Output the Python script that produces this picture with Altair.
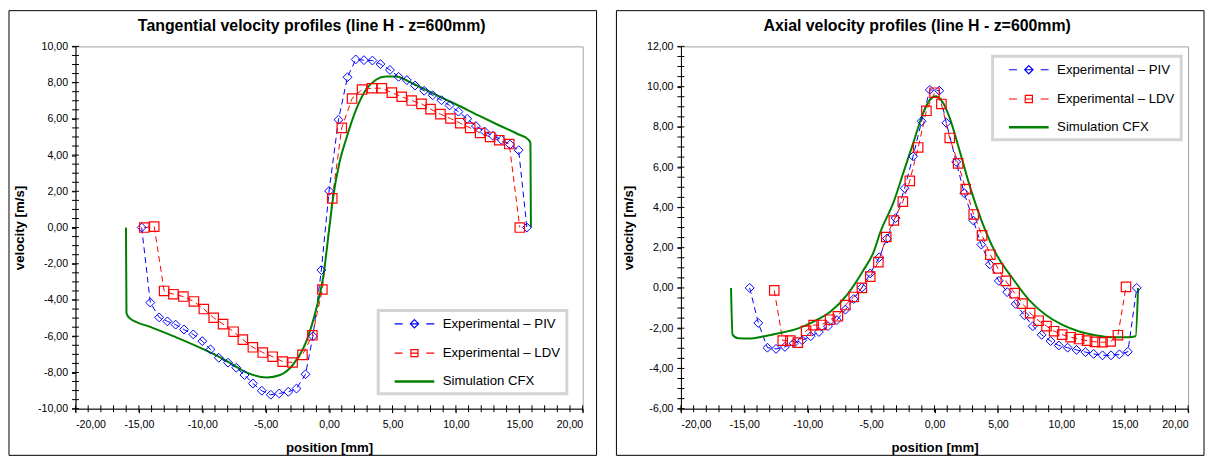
import altair as alt
import pandas as pd

FONT = "Liberation Sans"
PIV = "Experimental – PIV"
LDV = "Experimental – LDV"
CFX = "Simulation CFX"
SERIES = [PIV, LDV, CFX]
COLORS = ["#0000ff", "#ff0000", "#008000"]

X_MAJOR = [-20, -15, -10, -5, 0, 5, 10, 15, 20]
X_MINOR = list(range(-20, 21))
TAN_Y_MAJOR = list(range(-10, 11, 2))
TAN_Y_MINOR = [v / 2 for v in range(-20, 21)]
AX_Y_MAJOR = list(range(-6, 13, 2))
AX_Y_MINOR = [v / 2 for v in range(-12, 25)]

TAN_TITLE = "Tangential velocity profiles (line H - z=600mm)"
AX_TITLE = "Axial velocity profiles (line H - z=600mm)"

# ---- Tangential velocity (line H, z=600mm)
tan_piv_x = [-14.78, -14.10, -13.40, -12.75, -12.10, -11.44, -10.71, -10.00, -9.35, -8.70,
             -7.97, -7.32, -6.67, -6.01, -5.31, -4.60, -3.93, -3.22, -2.57, -1.86,
             -1.27, -0.61, 0.00, 0.74, 1.45, 2.10, 2.75, 3.42, 4.05, 4.80,
             5.48, 6.13, 6.78, 7.50, 8.17, 8.86, 9.50, 10.20, 10.89, 11.58,
             12.27, 12.93, 13.59, 14.27, 14.95, 15.60]
tan_piv_y = [0.00, -4.14, -4.96, -5.18, -5.36, -5.63, -5.90, -6.27, -6.73, -7.19,
             -7.46, -7.74, -8.14, -8.61, -9.01, -9.23, -9.16, -9.07, -8.89, -8.10,
             -6.00, -2.35, 2.02, 5.95, 8.30, 9.28, 9.24, 9.22, 9.02, 8.70,
             8.32, 8.14, 7.84, 7.55, 7.30, 7.03, 6.74, 6.40, 6.00, 5.60,
             5.30, 5.06, 4.85, 4.58, 4.27, 0.00]
tan_ldv_x = [-14.57, -13.79, -13.01, -12.28, -11.49, -10.66, -9.88, -9.10, -8.36, -7.53,
             -6.80, -6.01, -5.23, -4.45, -3.66, -2.88, -2.10, -1.32, -0.53, 0.25,
             1.00, 1.81, 2.60, 3.38, 4.16, 4.95, 5.73, 6.51, 7.29, 8.00,
             8.78, 9.57, 10.35, 11.13, 11.91, 12.70, 13.42, 14.21, 15.04]
tan_ldv_y = [0.00, 0.05, -3.50, -3.68, -3.81, -4.08, -4.50, -4.98, -5.33, -5.75,
             -6.19, -6.61, -6.90, -7.13, -7.40, -7.45, -7.03, -5.95, -3.42, 1.61,
             5.50, 7.12, 7.62, 7.69, 7.69, 7.45, 7.22, 7.01, 6.83, 6.54,
             6.26, 6.02, 5.76, 5.50, 5.22, 5.00, 4.82, 4.61, 0.00]
tan_cfx_x = [-16.02, -15.98, -15.75, -14.05, -11.96, -9.88, -8.05, -6.48, -4.92, -3.87,
             -2.83, -1.79, -1.00, -0.48, 0.04, 0.30, 0.82, 1.34, 2.13, 2.91,
             3.70, 4.48, 5.26, 6.30, 8.13, 9.96, 11.78, 13.35, 14.91, 15.69,
             15.88, 15.92]
tan_cfx_y = [0.00, -4.72, -5.00, -5.50, -6.09, -6.73, -7.37, -8.01, -8.28, -8.14,
             -7.55, -6.27, -4.45, -2.80, 0.10, 1.58, 3.59, 4.87, 6.51, 7.61,
             8.16, 8.34, 8.34, 8.06, 7.42, 6.82, 6.19, 5.66, 5.15, 4.87,
             4.68, 0.00]

# ---- Axial velocity (line H, z=600mm)
ax_piv_x = [-14.58, -13.90, -13.18, -12.50, -11.80, -11.10, -10.44, -9.77, -9.12, -8.40,
            -7.70, -7.03, -6.37, -5.73, -5.07, -4.36, -3.75, -3.07, -2.36, -1.69,
            -1.02, -0.37, 0.37, 0.93, 1.71, 2.34, 3.06, 3.69, 4.36, 5.07,
            5.73, 6.40, 7.09, 7.75, 8.45, 9.15, 9.80, 10.50, 11.20, 11.90,
            12.55, 13.25, 13.92, 14.58, 15.25, 15.95]
ax_piv_y = [0.00, -1.74, -2.97, -3.03, -2.93, -2.75, -2.60, -2.40, -2.19, -1.90,
            -1.60, -1.08, -0.55, 0.02, 0.72, 1.52, 2.45, 3.47, 4.95, 6.54,
            8.28, 9.84, 9.80, 8.20, 6.26, 4.71, 3.35, 2.15, 1.17, 0.35,
            -0.21, -0.80, -1.36, -1.90, -2.33, -2.64, -2.86, -2.97, -3.08, -3.19,
            -3.28, -3.35, -3.35, -3.30, -3.17, 0.00]
ax_ldv_x = [-12.64, -11.97, -11.37, -10.78, -10.13, -9.54, -8.91, -8.24, -7.62, -7.03,
            -6.37, -5.73, -5.07, -4.43, -3.81, -3.21, -2.50, -1.95, -1.29, -0.64,
            0.00, 0.54, 1.20, 1.86, 2.46, 3.09, 3.75, 4.40, 5.00, 5.62,
            6.32, 6.94, 7.54, 8.21, 8.83, 9.43, 10.07, 10.74, 11.40, 12.03,
            12.65, 13.25, 13.89, 14.46, 15.10]
ax_ldv_y = [-0.12, -2.62, -2.62, -2.72, -2.13, -1.85, -1.84, -1.58, -1.41, -0.85,
            -0.45, 0.00, 0.56, 1.28, 2.53, 3.35, 4.29, 5.32, 6.98, 8.80,
            9.70, 9.14, 7.45, 6.19, 4.91, 3.65, 2.61, 1.65, 0.97, 0.35,
            -0.26, -0.78, -1.25, -1.63, -1.90, -2.15, -2.32, -2.45, -2.54, -2.62,
            -2.68, -2.70, -2.66, -2.35, 0.05]
ax_cfx_x = [-16.05, -15.93, -15.50, -14.45, -13.40, -12.10, -10.80, -9.50, -8.20, -6.90,
            -5.60, -4.80, -4.27, -3.23, -2.45, -1.67, -0.89, -0.36, 0.10, 0.68,
            1.20, 1.95, 2.85, 3.75, 4.84, 6.15, 7.45, 8.75, 10.05, 11.35,
            12.66, 13.96, 15.26, 15.86, 16.05]
ax_cfx_y = [0.00, -2.32, -2.50, -2.51, -2.40, -2.23, -2.02, -1.66, -1.17, -0.34,
            0.89, 1.79, 2.78, 4.26, 5.74, 7.22, 8.70, 9.35, 9.52, 9.19,
            8.44, 6.88, 4.91, 3.27, 1.71, 0.48, -0.59, -1.33, -1.82, -2.15,
            -2.35, -2.45, -2.45, -2.40, 0.00]

W, H = 511, 365
LABEL_EXPR = "replace(replace(format(datum.value, '.2f'), '.', ','), '\u2212', '-')"

# legend symbols: dash, marker, dash / thick solid line (custom paths)
LEGEND_SHAPES = [
    "M-3,0H-1.8M1.8,0H3M0,-0.63L0.63,0L0,0.63L-0.63,0ZM-0.63,0H0.63",
    "M-3,0H-1.8M1.8,0H3M-0.54,-0.54H0.54V0.54H-0.54ZM-0.54,0H0.54",
    "M-3,0H3M-3,0.1H3M-3,-0.1H3",
]


def series_df(x, y, name):
    return pd.DataFrame({"position": x, "velocity": y, "series": name})


def panel(title, piv, ldv, cfx, ydomain, ymajor, yminor, legend_pos, frame_x):
    xs = alt.Scale(domain=[-20, 20], nice=False, zero=False)
    ys = alt.Scale(domain=ydomain, nice=False, zero=False)
    xa = alt.Axis(values=X_MAJOR, labelExpr=LABEL_EXPR, title="position [mm]",
                  tickSize=4, labelPadding=7, titlePadding=11, grid=False)
    ya = alt.Axis(values=ymajor, labelExpr=LABEL_EXPR, title="velocity [m/s]",
                  tickSize=4, labelPadding=4, titlePadding=11, grid=False)
    X = alt.X("position:Q", scale=xs, axis=xa)
    Y = alt.Y("velocity:Q", scale=ys, axis=ya)
    legend = alt.Legend(
        orient="none", legendX=legend_pos[0], legendY=legend_pos[1], title=None,
        symbolSize=177, symbolOffset=23, labelOffset=21, symbolOpacity=1,
        symbolStrokeWidth=1.2,
        labelFont=FONT, labelFontSize=13.3, labelColor="black", labelLimit=0,
        padding=6, rowPadding=14.5, fillColor="white", strokeColor="#d4d4d4",
    )
    C = alt.Color("series:N", scale=alt.Scale(domain=SERIES, range=COLORS), legend=legend)

    frame = alt.Chart(pd.DataFrame({"k": [0]})).mark_rect(
        fill="transparent", stroke="black", strokeWidth=1
    ).encode(x=alt.value(frame_x[0]), x2=alt.value(frame_x[1]),
             y=alt.value(-36), y2=alt.value(412))

    head = alt.Chart(pd.DataFrame({"title": [title]})).mark_text(
        font=FONT, fontSize=16, fontWeight="bold", color="black",
        align="center", baseline="alphabetic"
    ).encode(text="title:N", x=alt.value(238), y=alt.value(-16))

    xt = alt.Chart(pd.DataFrame({"position": X_MINOR})).mark_tick(
        orient="vertical", size=7, thickness=1, color="black", opacity=1
    ).encode(x=X, y=alt.value(H))
    yt = alt.Chart(pd.DataFrame({"velocity": yminor})).mark_tick(
        orient="horizontal", size=7, thickness=1, color="black", opacity=1
    ).encode(y=Y, x=alt.value(0))

    exp = pd.concat([series_df(piv[0], piv[1], PIV), series_df(ldv[0], ldv[1], LDV)])
    dashed = alt.Chart(exp).mark_line(strokeDash=[6, 4], strokeWidth=1).encode(
        x=X, y=Y, color=C)
    sim = alt.Chart(series_df(cfx[0], cfx[1], CFX)).mark_line(
        strokeWidth=2, interpolate="monotone").encode(x=X, y=Y, color=C)
    piv_pts = alt.Chart(series_df(piv[0], piv[1], PIV)).mark_point(
        shape="diamond", size=80, strokeWidth=1, filled=False, opacity=1
    ).encode(x=X, y=Y, color=C)
    ldv_pts = alt.Chart(series_df(ldv[0], ldv[1], LDV)).mark_point(
        shape="square", size=90, strokeWidth=1.2, filled=False, opacity=1
    ).encode(x=X, y=Y, color=C)
    # invisible layer that only supplies the legend symbols
    leg = alt.Chart(pd.DataFrame({"series": SERIES})).mark_point(
        opacity=0, filled=False
    ).encode(
        x=alt.value(0), y=alt.value(0), color=C,
        shape=alt.Shape("series:N", scale=alt.Scale(domain=SERIES, range=LEGEND_SHAPES),
                        legend=legend),
    )

    return alt.layer(frame, head, xt, yt, dashed, sim, piv_pts, ldv_pts, leg).properties(
        width=W, height=H)


left = panel(TAN_TITLE,
             (tan_piv_x, tan_piv_y), (tan_ldv_x, tan_ldv_y), (tan_cfx_x, tan_cfx_y),
             [-10, 10], TAN_Y_MAJOR, TAN_Y_MINOR, (305, 266), (-67, 525))
right = panel(AX_TITLE,
              (ax_piv_x, ax_piv_y), (ax_ldv_x, ax_ldv_y), (ax_cfx_x, ax_cfx_y),
              [-6, 12], AX_Y_MAJOR, AX_Y_MINOR, (314, 10), (-65, 527))

chart = alt.hconcat(left, right, spacing=18).resolve_scale(
    color="independent", shape="independent"
).resolve_legend(
    color="independent", shape="independent"
).properties(
    padding=0, background="white"
).configure_view(stroke="#a0a0a0", strokeWidth=1).configure_axis(
    domainColor="black", tickColor="black", labelColor="black", titleColor="black",
    labelFont=FONT, labelFontSize=10.67, titleFont=FONT, titleFontSize=13.3,
    titleFontWeight="bold"
).configure_legend(strokeWidth=3)

chart.save("out.html", embed_options={"renderer": "svg", "actions": False})
